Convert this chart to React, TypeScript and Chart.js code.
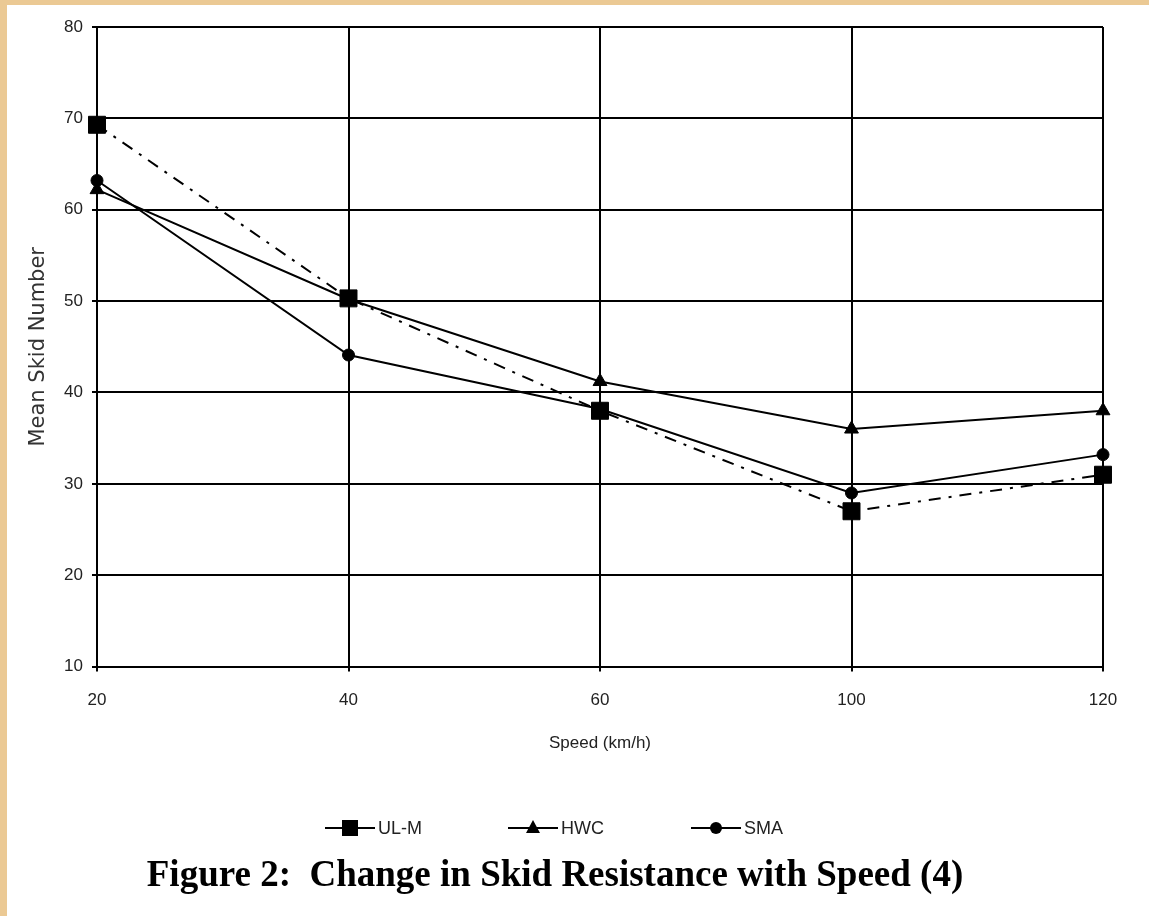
import { useEffect, useRef } from "react";
import { Chart, registerables } from "chart.js";

Chart.register(...registerables);

// ---- data ----
const speeds = ["20", "40", "60", "100", "120"];
const ulmValues = [69.3, 50.3, 38, 27, 31];
const hwcValues = [62.2, 50.2, 41.2, 36, 38];
const smaValues = [63.2, 44.1, 38.2, 29, 33.2];
const seriesNames = ["UL-M", "HWC", "SMA"];
const yTicks = [10, 20, 30, 40, 50, 60, 70, 80];
const xTitle = "Speed (km/h)";
const yTitle = "Mean Skid Number";
const figureTitle = "Figure 2:  Change in Skid Resistance with Speed (4)";

const SANS = "'Liberation Sans', Arial, sans-serif";
const WIDE = "'DejaVu Sans', Verdana, sans-serif";
const SERIF = "'Liberation Serif', 'Times New Roman', serif";

function drawMarker(ctx: CanvasRenderingContext2D, style: string, x: number, y: number) {
  ctx.beginPath();
  if (style === "rect") {
    ctx.rect(x - 8, y - 8, 16, 16);
  } else if (style === "triangle") {
    ctx.moveTo(x, y - 8);
    ctx.lineTo(x + 7, y + 5);
    ctx.lineTo(x - 7, y + 5);
    ctx.closePath();
  } else {
    ctx.arc(x, y, 6, 0, Math.PI * 2);
  }
  ctx.fill();
}

const lineLegend = {
  id: "lineLegend",
  afterDraw(chart: any) {
    const ctx: CanvasRenderingContext2D = chart.ctx;
    const y = 823;
    chart.data.datasets.forEach((ds: any, i: number) => {
      const x0 = 318 + i * 183;
      ctx.save();
      ctx.strokeStyle = "#000";
      ctx.fillStyle = "#000";
      ctx.lineWidth = 2;
      ctx.beginPath();
      ctx.moveTo(x0, y);
      ctx.lineTo(x0 + 50, y);
      ctx.stroke();
      drawMarker(ctx, ds.pointStyle, x0 + 25, y);
      ctx.fillStyle = "#222";
      ctx.font = `18px ${SANS}`;
      ctx.textBaseline = "middle";
      ctx.textAlign = "left";
      ctx.fillText(ds.label, x0 + 53, y + 1);
      ctx.restore();
    });
  },
};

export default function App() {
  const ref = useRef<HTMLCanvasElement | null>(null);

  useEffect(() => {
    if (!ref.current) return;
    const common = {
      borderColor: "#000",
      backgroundColor: "#000",
      pointBackgroundColor: "#000",
      pointBorderColor: "#000",
      borderWidth: 2,
      pointBorderWidth: 1,
      tension: 0,
      fill: false,
    };
    const chart = new Chart(ref.current, {
      type: "line",
      data: {
        labels: speeds,
        datasets: [
          {
            ...common,
            label: seriesNames[0],
            data: ulmValues,
            borderDash: [12, 8, 3, 8],
            pointStyle: "rect",
            pointRadius: 12,
          },
          {
            ...common,
            label: seriesNames[1],
            data: hwcValues,
            pointStyle: "triangle",
            pointRadius: 8,
          },
          {
            ...common,
            label: seriesNames[2],
            data: smaValues,
            pointStyle: "circle",
            pointRadius: 6,
          },
        ],
      },
      options: {
        responsive: false,
        animation: false,
        devicePixelRatio: 1,
        layout: { padding: { top: 22, right: 46, left: 0, bottom: 0 } },
        plugins: {
          legend: { display: false },
          tooltip: { enabled: false },
          title: {
            display: true,
            position: "bottom",
            text: figureTitle,
            color: "#000",
            font: { family: SERIF, size: 37, weight: "bold" },
            padding: { top: 101, bottom: 17 },
          },
        },
        scales: {
          x: {
            type: "category",
            offset: false,
            grid: { color: "#000", lineWidth: 2, tickLength: 5, drawTicks: true },
            border: { color: "#000", width: 2 },
            ticks: { color: "#222", font: { family: SANS, size: 17 }, padding: 19, maxRotation: 0 },
            title: {
              display: true,
              text: xTitle,
              color: "#222",
              font: { family: SANS, size: 17 },
              padding: { top: 4, bottom: 0 },
            },
            afterFit: (s: any) => {
              s.height = 87;
            },
          },
          y: {
            min: yTicks[0],
            max: yTicks[yTicks.length - 1],
            afterBuildTicks: (s: any) => {
              s.ticks = yTicks.map((v) => ({ value: v }));
            },
            grid: { color: "#000", lineWidth: 2, tickLength: 5 },
            border: { color: "#000", width: 2 },
            ticks: { color: "#222", font: { family: SANS, size: 17 }, padding: 9 },
            title: {
              display: true,
              text: yTitle,
              color: "#333",
              font: { family: WIDE, size: 21 },
              padding: { top: 19, bottom: 4 },
            },
            afterFit: (s: any) => {
              s.width = 90;
            },
          },
        },
      },
      plugins: [lineLegend],
    } as any);
    return () => chart.destroy();
  }, []);

  return (
    <div
      style={{
        position: "fixed",
        left: 0,
        top: 0,
        width: 1149,
        height: 916,
        background: "#EBC994",
      }}
    >
      <div
        style={{
          position: "absolute",
          left: 7,
          top: 5,
          width: 1142,
          height: 911,
          background: "#fff",
        }}
      >
        <canvas ref={ref} width={1142} height={911} style={{ display: "block" }} />
      </div>
    </div>
  );
}
